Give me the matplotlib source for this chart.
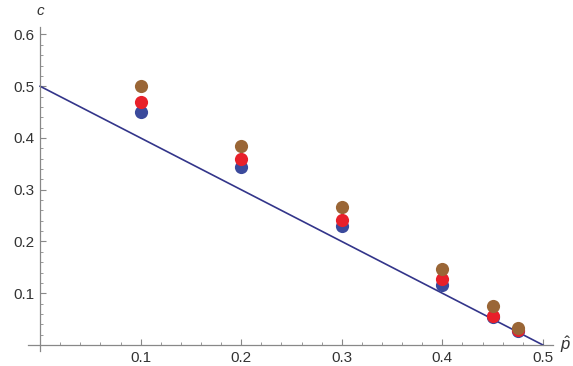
import numpy as np
import matplotlib.pyplot as plt
from matplotlib.ticker import MultipleLocator, FixedLocator

plt.rcParams['font.family'] = ['Liberation Sans', 'DejaVu Sans']
plt.rcParams['mathtext.fontset'] = 'custom'
plt.rcParams['mathtext.it'] = 'Liberation Sans:italic'
plt.rcParams['mathtext.rm'] = 'Liberation Sans'

# data
p_hat = [0.1, 0.2, 0.3, 0.4, 0.45, 0.475]
c_blue = [0.451, 0.343, 0.230, 0.116, 0.054, 0.027]
c_red = [0.469, 0.359, 0.2415, 0.127, 0.056, 0.029]
c_brown = [0.501, 0.385, 0.267, 0.147, 0.076, 0.032]

line_x = [0.0, 0.5]
line_y = [0.5, 0.0]

x_ticks = [0.1, 0.2, 0.3, 0.4, 0.5]
y_ticks = [0.1, 0.2, 0.3, 0.4, 0.5, 0.6]

fig = plt.figure(figsize=(5.73, 3.66), dpi=100)
ax = fig.add_axes([0.0489, 0.0404, 0.9162, 0.8866])

ax.plot(line_x, line_y, color='#33358a', lw=1.2, zorder=2)

ms = 90
ax.scatter(p_hat, c_blue, s=ms, color='#3b4a9c', zorder=3, linewidths=0)
ax.scatter(p_hat, c_red, s=ms, color='#e8202a', zorder=4, linewidths=0)
ax.scatter(p_hat, c_brown, s=ms, color='#9a6636', zorder=5, linewidths=0)

ax.set_xlim(-0.012, 0.51)
ax.set_ylim(-0.012, 0.615)

for s in ['top', 'right']:
    ax.spines[s].set_visible(False)
ax.spines['left'].set_position(('data', 0))
ax.spines['bottom'].set_position(('data', 0))
for s in ['left', 'bottom']:
    ax.spines[s].set_color('#888888')
    ax.spines[s].set_linewidth(0.9)

ax.xaxis.set_major_locator(FixedLocator(x_ticks))
ax.yaxis.set_major_locator(FixedLocator(y_ticks))
ax.xaxis.set_minor_locator(MultipleLocator(0.02))
ax.yaxis.set_minor_locator(MultipleLocator(0.02))
ax.set_xticklabels([f'{v:.1f}' for v in x_ticks])
ax.set_yticklabels([f'{v:.1f}' for v in y_ticks])

ax.tick_params(which='major', direction='in', length=4, width=0.8,
               color='#888888', labelsize=11, labelcolor='#333333', pad=4)
ax.tick_params(which='minor', direction='in', length=2.2, width=0.6,
               color='#888888')

ax.text(0.0, 0.632, 'c', fontsize=11, style='italic', color='#333333',
        ha='center', va='bottom', transform=ax.transData, clip_on=False)
ax.text(0.517, 0.0, r'$\hat{p}$', fontsize=12, color='#333333',
        ha='left', va='center', transform=ax.transData, clip_on=False)

fig.savefig('out.png', dpi=100)
